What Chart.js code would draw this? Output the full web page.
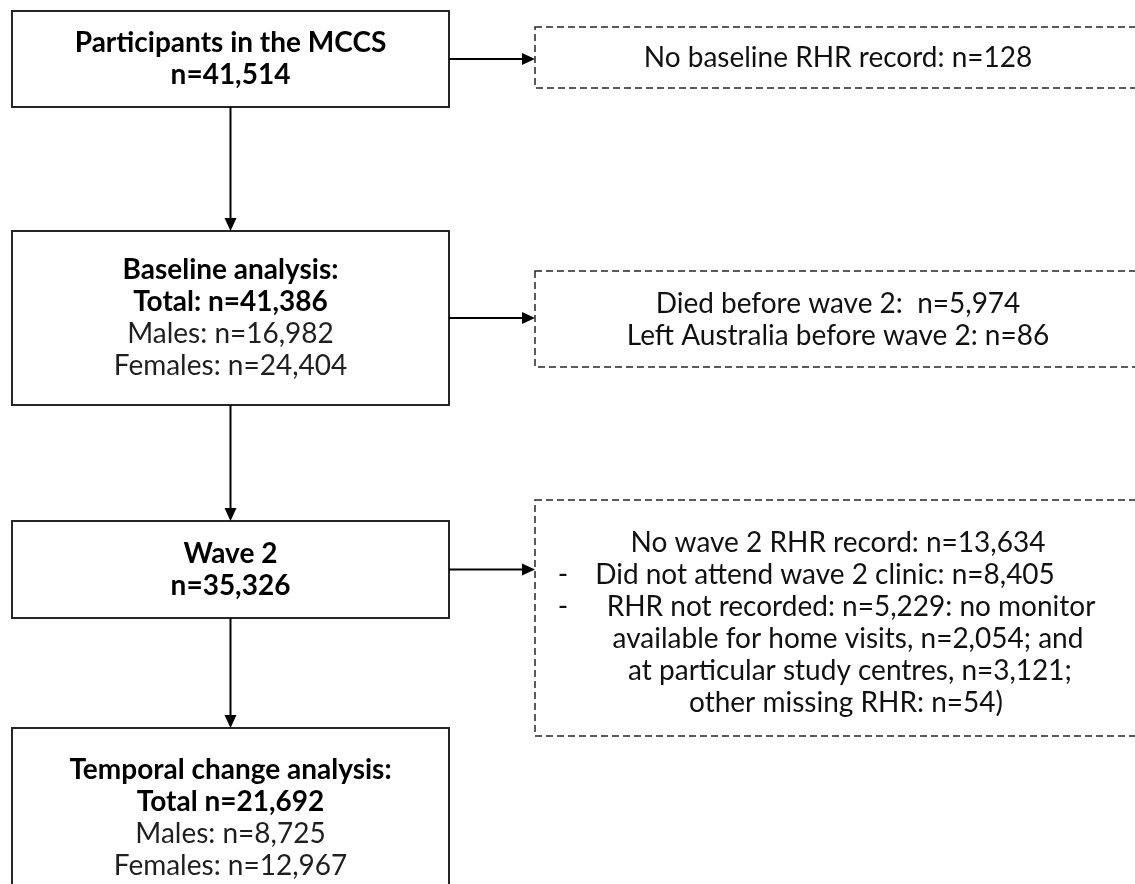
<!DOCTYPE html>
<html>
<head>
<meta charset="utf-8">
<script src="https://cdn.jsdelivr.net/npm/chart.js@4"></script>
<style>
  html, body { margin: 0; padding: 0; background: #fff; }
  #flow { display: block; }
</style>
</head>
<body>
<canvas id="flow" width="1135" height="884"></canvas>
<script>
// stages down the left column
const stageNames = ['Participants in the MCCS', 'Baseline analysis:', 'Wave 2', 'Temporal change analysis:'];
const stageTotals = [41514, 41386, 35326, 21692];
const stageMales = [null, 16982, null, 8725];
const stageFemales = [null, 24404, null, 12967];

// exclusions on the right
const noBaselineRhr = 128;
const diedBeforeWave2 = 5974;
const leftAustralia = 86;
const noWave2Rhr = 13634;
const didNotAttend = 8405;
const rhrNotRecorded = 5229;
const noMonitorHome = 2054;
const studyCentres = 3121;
const otherMissing = 54;

// layout, in canvas units (the x/y scales run 0..1135 and 0..884)
const stageBoxes = [
    { x0: 12, x1: 449, y0: 11, y1: 107 },
    { x0: 12, x1: 449, y0: 231, y1: 405 },
    { x0: 12, x1: 449, y0: 521, y1: 618 },
    { x0: 12, x1: 449, y0: 728, y1: 908 }
];
const exclBoxes = [
    { x0: 535, x1: 1141, y0: 27, y1: 88, shift: 0 },
    { x0: 535, x1: 1141, y0: 271, y1: 367, shift: 1 },
    { x0: 535, x1: 1141, y0: 500, y1: 736, shift: 5 }
];
const exclLineX = [[838], [838, 838], [838, 825, 851, 848, 850, 846]];
const dashX = 563;
const lineGap = 32;
const fontSize = 28;
const fontFamily = 'Lato, "Noto Sans", sans-serif';

function fmt(n) {
    return n.toLocaleString('en-US');
}

function stageLines(i) {
    const lines = [{ t: stageNames[i], b: true }];
    if (stageMales[i] === null) {
        lines.push({ t: 'n=' + fmt(stageTotals[i]), b: true });
    } else {
        const sep = i === 1 ? 'Total: n=' : 'Total n=';
        lines.push({ t: sep + fmt(stageTotals[i]), b: true });
        lines.push({ t: 'Males: n=' + fmt(stageMales[i]) });
        lines.push({ t: 'Females: n=' + fmt(stageFemales[i]) });
    }
    return lines;
}

const exclusionLines = [
    [{ t: 'No baseline RHR record: n=' + fmt(noBaselineRhr) }],
    [
        { t: 'Died before wave 2:  n=' + fmt(diedBeforeWave2) },
        { t: 'Left Australia before wave 2: n=' + fmt(leftAustralia) }
    ],
    [
        { t: 'No wave 2 RHR record: n=' + fmt(noWave2Rhr) },
        { t: 'Did not attend wave 2 clinic: n=' + fmt(didNotAttend), dash: true },
        { t: 'RHR not recorded: n=' + fmt(rhrNotRecorded) + ': no monitor', dash: true },
        { t: 'available for home visits, n=' + fmt(noMonitorHome) + '; and' },
        { t: 'at particular study centres, n=' + fmt(studyCentres) + ';' },
        { t: 'other missing RHR: n=' + fmt(otherMissing) + ')' }
    ]
];

function arrow(ctx, x1, y1, x2, y2) {
    const ang = Math.atan2(y2 - y1, x2 - x1);
    const len = 13, half = 6;
    ctx.beginPath();
    ctx.moveTo(x1, y1);
    ctx.lineTo(x2 - Math.cos(ang) * len, y2 - Math.sin(ang) * len);
    ctx.stroke();
    ctx.beginPath();
    ctx.moveTo(x2, y2);
    ctx.lineTo(x2 - Math.cos(ang) * len - Math.sin(ang) * half, y2 - Math.sin(ang) * len + Math.cos(ang) * half);
    ctx.lineTo(x2 - Math.cos(ang) * len + Math.sin(ang) * half, y2 - Math.sin(ang) * len - Math.cos(ang) * half);
    ctx.closePath();
    ctx.fill();
}

const flowPlugin = {
    id: 'flow',
    afterDraw(chart) {
        const ctx = chart.ctx;
        const xs = chart.scales.x, ys = chart.scales.y;
        const px = v => xs.getPixelForValue(v);
        const py = v => ys.getPixelForValue(v);
        ctx.save();
        ctx.textAlign = 'center';
        ctx.textBaseline = 'middle';

        // main boxes
        stageBoxes.forEach((b, i) => {
            ctx.strokeStyle = '#262626';
            ctx.lineWidth = 2;
            ctx.setLineDash([]);
            ctx.strokeRect(px(b.x0), py(b.y0), px(b.x1) - px(b.x0), py(b.y1) - py(b.y0));
            const lines = stageLines(i);
            const cx = px((b.x0 + b.x1) / 2);
            const cy = py((b.y0 + b.y1) / 2);
            lines.forEach((l, k) => {
                ctx.font = (l.b ? 'bold ' : '') + fontSize + 'px ' + fontFamily;
                ctx.fillStyle = l.b ? '#000' : '#1f1f1f';
                ctx.fillText(l.t, cx, cy + (k - (lines.length - 1) / 2) * lineGap);
            });
        });

        // exclusion boxes
        exclBoxes.forEach((b, i) => {
            ctx.strokeStyle = '#262626';
            ctx.lineWidth = 1.5;
            ctx.setLineDash([7, 4]);
            ctx.strokeRect(px(b.x0), py(b.y0), px(b.x1) - px(b.x0), py(b.y1) - py(b.y0));
            ctx.setLineDash([]);
            const lines = exclusionLines[i];
            const cy = py((b.y0 + b.y1) / 2 + b.shift);
            ctx.font = fontSize + 'px ' + fontFamily;
            ctx.fillStyle = '#111';
            lines.forEach((l, k) => {
                const y = cy + (k - (lines.length - 1) / 2) * lineGap;
                ctx.fillText(l.t, px(exclLineX[i][k]), y);
                if (l.dash) ctx.fillText('-', px(dashX), y);
            });
        });

        // arrows
        ctx.strokeStyle = '#000';
        ctx.fillStyle = '#000';
        ctx.lineWidth = 2;
        const midX = (stageBoxes[0].x0 + stageBoxes[0].x1) / 2;
        for (let i = 0; i < stageBoxes.length - 1; i++) {
            arrow(ctx, px(midX), py(stageBoxes[i].y1), px(midX), py(stageBoxes[i + 1].y0));
        }
        exclBoxes.forEach((b, i) => {
            const s = stageBoxes[i];
            const y = py((s.y0 + s.y1) / 2);
            arrow(ctx, px(s.x1), y, px(b.x0), y);
        });
        ctx.restore();
    }
};

new Chart(document.getElementById('flow').getContext('2d'), {
    type: 'scatter',
    data: { datasets: [] },
    options: {
        responsive: false,
        animation: false,
        layout: { padding: 0 },
        scales: {
            x: { type: 'linear', min: 0, max: 1135, display: false },
            y: { type: 'linear', min: 0, max: 884, reverse: true, display: false }
        },
        plugins: {
            legend: { display: false },
            tooltip: { enabled: false }
        }
    },
    plugins: [flowPlugin]
});
</script>
</body>
</html>
